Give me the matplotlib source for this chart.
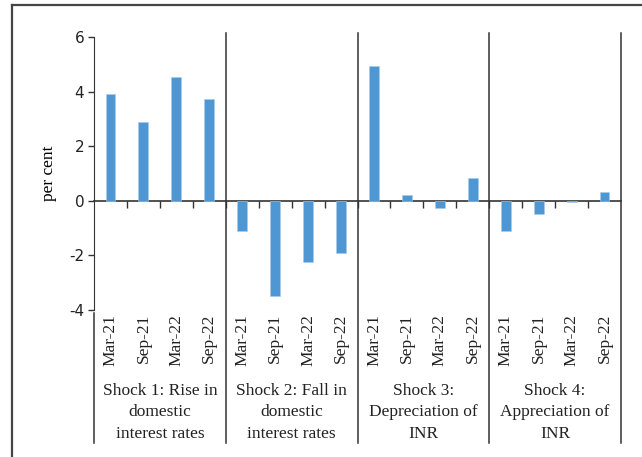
import matplotlib.pyplot as plt
import matplotlib.transforms as mtransforms
from matplotlib.lines import Line2D
import numpy as np

periods = ['Mar-21', 'Sep-21', 'Mar-22', 'Sep-22']
shocks = ['Shock 1: Rise in\ndomestic\ninterest rates',
          'Shock 2: Fall in\ndomestic\ninterest rates',
          'Shock 3:\nDepreciation of\nINR',
          'Shock 4:\nAppreciation of\nINR']
shock1 = [3.9, 2.9, 4.52, 3.73]
shock2 = [-1.12, -3.5, -2.25, -1.9]
shock3 = [4.92, 0.22, -0.27, 0.85]
shock4 = [-1.1, -0.5, -0.05, 0.33]

values = shock1 + shock2 + shock3 + shock4
x = np.arange(len(values))

serif = 'Liberation Serif'
dark = '#333333'

fig = plt.figure(figsize=(6.42, 4.57), dpi=100)
ax = fig.add_axes([94/642, 147/457, 527/642, 273/457])

ax.bar(x, values, width=0.3, color='#4e97d2', edgecolor='#a9cbea', linewidth=0.4, zorder=3)

ax.set_xlim(-0.5, len(values) - 0.5)
ax.set_ylim(-4, 6)
ax.set_yticks([-4, -2, 0, 2, 4, 6])
ax.set_yticklabels(['-4', '-2', '0', '2', '4', '6'], fontsize=11, color='#222222')
ax.tick_params(axis='y', direction='out', length=4, width=1, color=dark, pad=3)

ax.spines['top'].set_visible(False)
ax.spines['right'].set_visible(False)
ax.spines['left'].set_color(dark)
ax.spines['bottom'].set_position(('data', 0))
ax.spines['bottom'].set_color(dark)
ax.spines['bottom'].set_linewidth(1.2)

ax.set_xticks(x[:-1] + 0.5)
ax.set_xticklabels([])
ax.tick_params(axis='x', direction='out', length=5, width=1, color=dark)

ax.set_ylabel('per cent', family=serif, fontsize=12.5, labelpad=9)

trans = mtransforms.blended_transform_factory(ax.transData, ax.transAxes)
ybot = (310 - 443) / 273
ytop = (310 - 33) / 273
ysub = (310 - 313) / 273

# category labels and group separators
for i, v in enumerate(x):
    ax.text(v, (310 - 314) / 273, periods[i % 4], transform=trans, rotation=90,
            ha='center', va='top', family=serif, fontsize=12.5, color='#222222')

for g, name in enumerate(shocks):
    center = g * 4 + 1.5
    ax.text(center, (310 - 383) / 273, name, transform=trans, ha='center', va='top',
            family=serif, fontsize=12.5, linespacing=1.45, color='#222222')
    right = g * 4 + 3.5
    ax.add_line(Line2D([right, right], [ybot, ytop], transform=trans, color=dark,
                       linewidth=1.1, clip_on=False))

ax.add_line(Line2D([-0.5, -0.5], [ybot, ysub], transform=trans, color=dark,
                   linewidth=1.1, clip_on=False))

# outer frame
fig.add_artist(Line2D([12/642, 12/642], [0, 1 - 5/457], transform=fig.transFigure,
                      color='#444444', linewidth=1.6))
fig.add_artist(Line2D([12/642, 1], [1 - 5/457, 1 - 5/457], transform=fig.transFigure,
                      color='#444444', linewidth=1.6))

fig.savefig('out.png', dpi=100)
